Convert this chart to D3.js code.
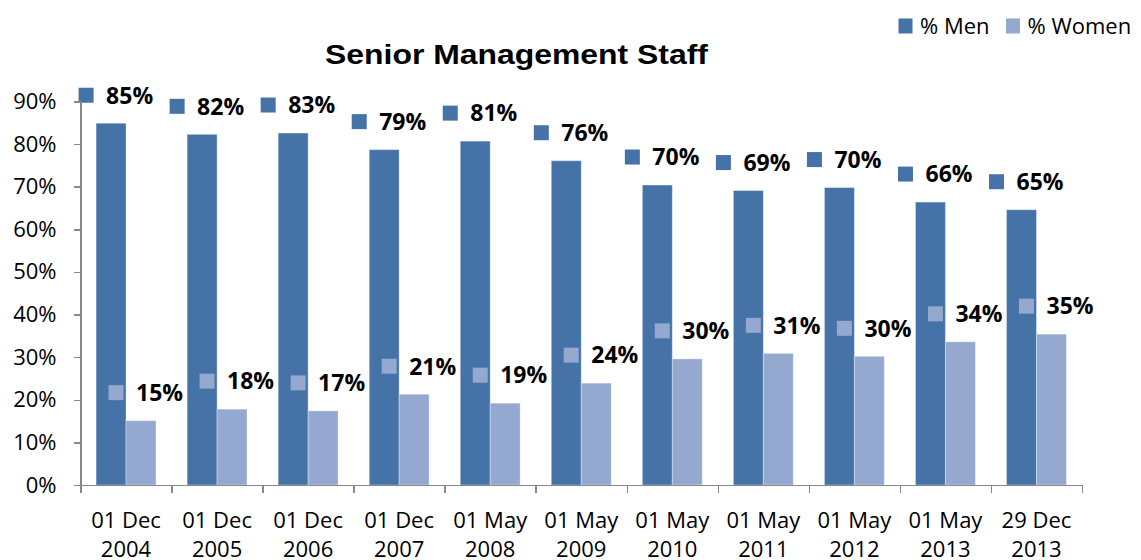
<!DOCTYPE html>
<html lang="en">
<head>
  <meta charset="UTF-8">
  <title>Senior Management Staff</title>
  <script src="https://d3js.org/d3.v7.min.js"></script>
  <style>
    body {
      margin: 0;
      background: #ffffff;
    }
    svg {
      display: block;
      font-family: "Open Sans", sans-serif;
    }
    .axis path,
    .axis line {
      stroke: #888888;
      stroke-width: 1.5;
      shape-rendering: crispEdges;
    }
    .axis text {
      font-size: 22px;
      fill: #000000;
      font-family: "Open Sans", sans-serif;
    }
    .chart-title {
      font-family: "Liberation Sans", Arial, sans-serif;
      font-size: 27px;
      font-weight: bold;
      fill: #000000;
    }
    .legend text {
      font-size: 22px;
      fill: #000000;
    }
    .data-label {
      font-size: 23px;
      font-weight: bold;
      fill: #000000;
    }
    .cat-label {
      font-size: 22px;
      fill: #000000;
    }
  </style>
</head>
<body>
<script>
  // values
  const categories = [
    "01 Dec 2004", "01 Dec 2005", "01 Dec 2006", "01 Dec 2007", "01 May 2008",
    "01 May 2009", "01 May 2010", "01 May 2011", "01 May 2012", "01 May 2013", "29 Dec 2013"
  ];
  const menPct = [84.9, 82.3, 82.6, 78.7, 80.7, 76.1, 70.4, 69.1, 69.8, 66.4, 64.6];
  const womenPct = [15.1, 17.8, 17.4, 21.3, 19.2, 23.9, 29.6, 30.9, 30.2, 33.6, 35.4];
  const seriesNames = ["% Men", "% Women"];
  const seriesColors = ["#4572A7", "#94A8D0"];
  const yTicks = [0, 10, 20, 30, 40, 50, 60, 70, 80, 90];
  const chartTitle = "Senior Management Staff";

  const width = 1141;
  const height = 560;
  const margin = { top: 101.5, right: 59, bottom: 75, left: 80.5 };

  const svg = d3.select("body").append("svg")
    .attr("width", width)
    .attr("height", height);

  const x = d3.scaleBand()
    .domain(categories)
    .range([margin.left, width - margin.right])
    .padding(0);

  const xSub = d3.scaleBand()
    .domain(seriesNames)
    .range([0, x.bandwidth()])
    .paddingInner(0)
    .paddingOuter(0.52);

  const y = d3.scaleLinear()
    .domain([0, 90])
    .range([height - margin.bottom, margin.top]);

  const xEdge = d3.scaleLinear()
    .domain([0, categories.length])
    .range([margin.left, width - margin.right]);

  // title
  svg.append("text")
    .attr("class", "chart-title")
    .attr("x", 516.5)
    .attr("y", 63.5)
    .attr("text-anchor", "middle")
    .attr("textLength", 383)
    .attr("lengthAdjust", "spacingAndGlyphs")
    .text(chartTitle);

  // legend
  const legend = svg.append("g").attr("class", "legend");
  const legendX = [898.5, 1006];
  seriesNames.forEach((name, i) => {
    legend.append("rect")
      .attr("x", legendX[i])
      .attr("y", 18.5)
      .attr("width", 14)
      .attr("height", 15)
      .attr("fill", seriesColors[i]);
    legend.append("text")
      .attr("x", legendX[i] + 21.5)
      .attr("y", 33.5)
      .text(name);
  });

  // bars
  const rows = categories.map((c, i) => ({ cat: c, values: [menPct[i], womenPct[i]] }));

  const groups = svg.append("g")
    .selectAll("g")
    .data(rows)
    .join("g")
    .attr("transform", d => `translate(${x(d.cat)},0)`);

  groups.selectAll("rect")
    .data(d => d.values.map((v, i) => ({ key: seriesNames[i], value: v, i: i })))
    .join("rect")
    .attr("x", d => xSub(d.key))
    .attr("y", d => y(d.value))
    .attr("width", xSub.bandwidth())
    .attr("height", d => y(0) - y(d.value))
    .attr("fill", d => seriesColors[d.i])
    .attr("stroke", "rgba(255,255,255,0.35)")
    .attr("stroke-width", 1);

  // axes
  svg.append("g")
    .attr("class", "axis")
    .attr("transform", `translate(${margin.left},0)`)
    .call(d3.axisLeft(y)
      .tickValues(yTicks)
      .tickSize(7)
      .tickSizeOuter(0)
      .tickPadding(17)
      .tickFormat(d => d + "%"));

  svg.append("g")
    .attr("class", "axis")
    .attr("transform", `translate(0,${y(0)})`)
    .call(d3.axisBottom(xEdge)
      .tickValues(d3.range(categories.length + 1))
      .tickSize(8)
      .tickSizeOuter(0)
      .tickFormat(""));

  // category labels on two lines
  categories.forEach(c => {
    const k = c.lastIndexOf(" ");
    const t = svg.append("text")
      .attr("class", "cat-label")
      .attr("text-anchor", "middle")
      .attr("x", x(c) + x.bandwidth() / 2)
      .attr("y", 527.5);
    t.append("tspan").text(c.slice(0, k));
    t.append("tspan")
      .attr("x", x(c) + x.bandwidth() / 2)
      .attr("dy", 29)
      .text(c.slice(k + 1));
  });

  // data labels with legend key
  const labels = groups.selectAll("g.lbl")
    .data(d => d.values.map((v, i) => ({ key: seriesNames[i], value: v, i: i })))
    .join("g")
    .attr("class", "lbl")
    .attr("transform", d => `translate(${xSub(d.key) - 17.5},${y(d.value) - 28})`);

  labels.append("rect")
    .attr("x", 0)
    .attr("y", -7.5)
    .attr("width", 15)
    .attr("height", 15)
    .attr("fill", d => seriesColors[d.i]);

  labels.append("text")
    .attr("class", "data-label")
    .attr("x", 27.5)
    .attr("y", 0)
    .attr("dy", "0.36em")
    .text(d => Math.round(d.value) + "%");
</script>
</body>
</html>
